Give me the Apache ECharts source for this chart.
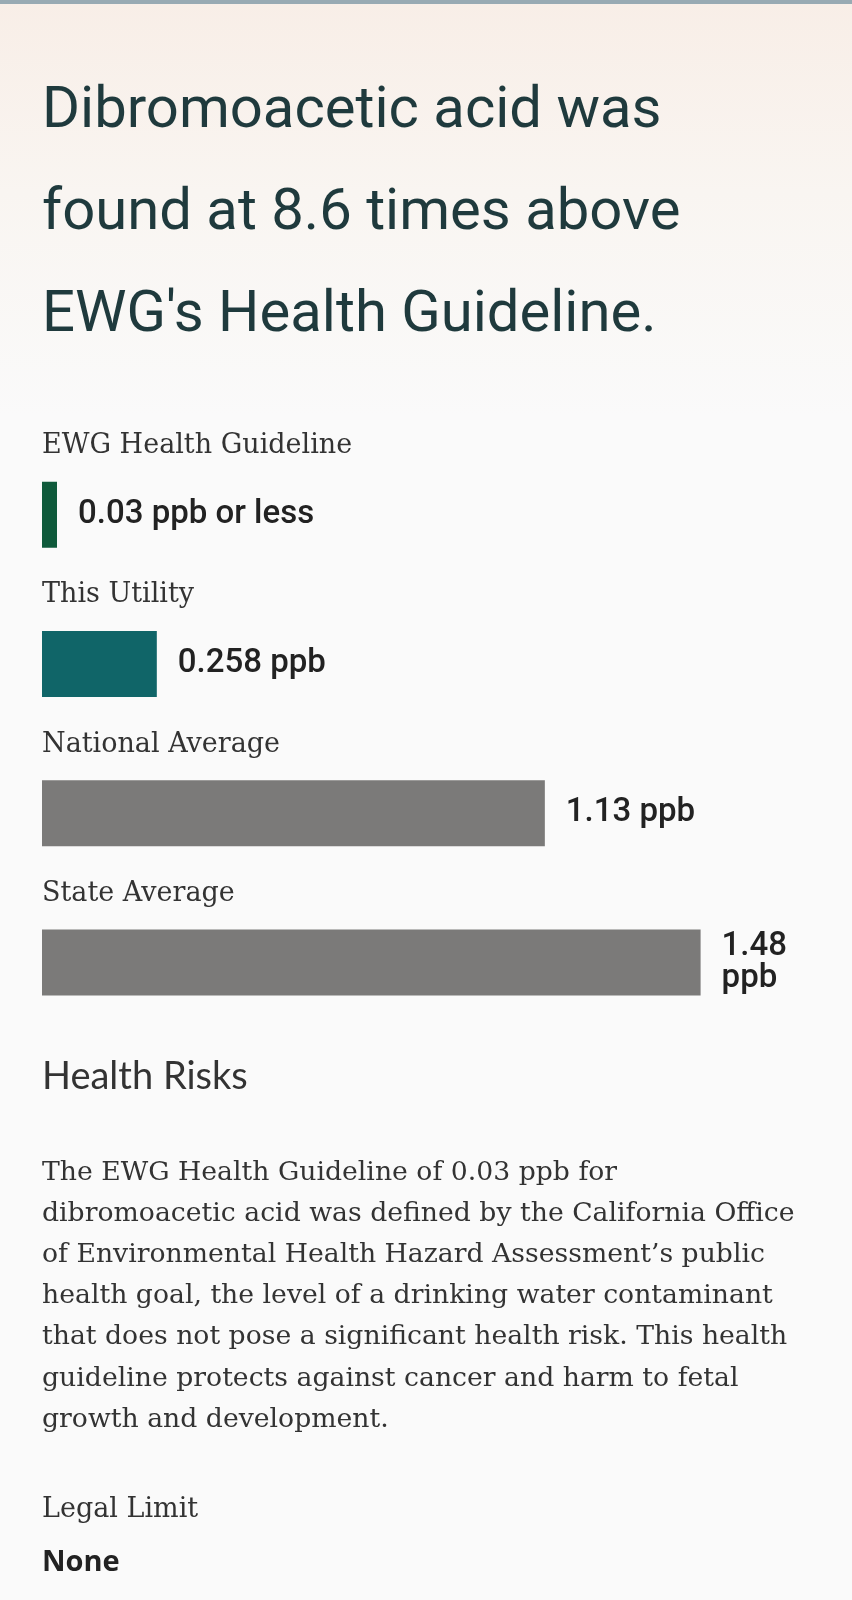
<!DOCTYPE html>
<html>
<head>
    <meta charset="utf-8">
    <title>Dibromoacetic acid</title>
    <script src="https://cdn.jsdelivr.net/npm/echarts@6/dist/echarts.min.js"></script>
    <style>
        html, body { margin: 0; padding: 0; background: #fafafa; }
        #main { width: 852px; height: 1600px; }
    </style>
</head>
<body>
<div id="main"></div>
<script type="text/javascript">
    // data
    var categories = ['EWG Health Guideline', 'This Utility', 'National Average', 'State Average'];
    var values = [0.03, 0.258, 1.13, 1.48];
    var valueLabels = ['0.03 ppb or less', '0.258 ppb', '1.13 ppb', '1.48 ppb'];
    var barColors = ['#0f5a3b', '#106568', '#7b7a79', '#7b7a79'];

    var titleLines = ['Dibromoacetic acid was', 'found at 8.6 times above', "EWG's Health Guideline."];
    var paragraph = [
        'The EWG Health Guideline of 0.03 ppb for',
        'dibromoacetic acid was defined by the California Office',
        'of Environmental Health Hazard Assessment\u2019s public',
        'health goal, the level of a drinking water contaminant',
        'that does not pose a significant health risk. This health',
        'guideline protects against cancer and harm to fetal',
        'growth and development.'
    ];

    var serif = '"DejaVu Serif", "Liberation Serif", serif';

    var myChart = echarts.init(document.getElementById('main'));

    var option = {
        backgroundColor: {
            type: 'linear', x: 0, y: 0, x2: 0, y2: 1,
            colorStops: [
                {offset: 0, color: '#f8eee7'},
                {offset: 0.12, color: '#f9f5f1'},
                {offset: 0.26, color: '#fafafa'},
                {offset: 1, color: '#fafafa'}
            ]
        },
        animation: false,
        grid: {left: 42, top: 440, width: 712, height: 597},
        xAxis: {type: 'value', min: 0, max: 1.6, show: false},
        yAxis: {
            type: 'category',
            inverse: true,
            data: categories,
            axisLine: {show: false},
            axisTick: {show: false},
            splitLine: {show: false},
            axisLabel: {
                inside: true,
                margin: 0,
                align: 'left',
                verticalAlign: 'bottom',
                padding: [0, 0, 55, 0],
                fontFamily: serif,
                fontSize: 27,
                color: '#333333'
            }
        },
        series: [{
            type: 'bar',
            barWidth: 66,
            barMinHeight: 15,
            data: values.map(function (v, i) {
                return {value: v, itemStyle: {color: barColors[i]}};
            }),
            label: {
                show: true,
                position: 'right',
                distance: 21,
                fontFamily: 'Roboto',
                fontWeight: 500,
                fontSize: 33,
                lineHeight: 32,
                color: '#222222',
                formatter: function (p) {
                    var s = valueLabels[p.dataIndex];
                    // the last label wraps in the page, no room beside the bar
                    return p.dataIndex === values.length - 1 ? s.replace(' ', '\n') : s;
                }
            }
        }],
        graphic: [
            {type: 'rect', shape: {x: 0, y: 0, width: 852, height: 4}, style: {fill: '#98aab3'}},
            {
                type: 'text', x: 42, y: 61,
                style: {
                    text: titleLines.join('\n'),
                    fontFamily: 'Roboto', fontSize: 58, lineHeight: 102,
                    fill: '#1f3a3d', verticalAlign: 'top'
                }
            },
            {
                type: 'text', x: 42, y: 1058,
                style: {
                    text: 'Health Risks',
                    fontFamily: 'Lato', fontSize: 38, fill: '#333333', verticalAlign: 'top'
                }
            },
            {
                type: 'text', x: 42, y: 1152,
                style: {
                    text: paragraph.join('\n'),
                    fontFamily: serif, fontSize: 26.7, lineHeight: 41.2,
                    fill: '#333333', verticalAlign: 'top'
                }
            },
            {
                type: 'text', x: 42, y: 1496,
                style: {
                    text: 'Legal Limit',
                    fontFamily: serif, fontSize: 27, fill: '#333333', verticalAlign: 'top'
                }
            },
            {
                type: 'text', x: 42, y: 1548,
                style: {
                    text: 'None',
                    fontFamily: '"Open Sans"', fontWeight: 'bold', fontSize: 29, fill: '#222222', verticalAlign: 'top'
                }
            }
        ]
    };

    myChart.setOption(option);
</script>
</body>
</html>
